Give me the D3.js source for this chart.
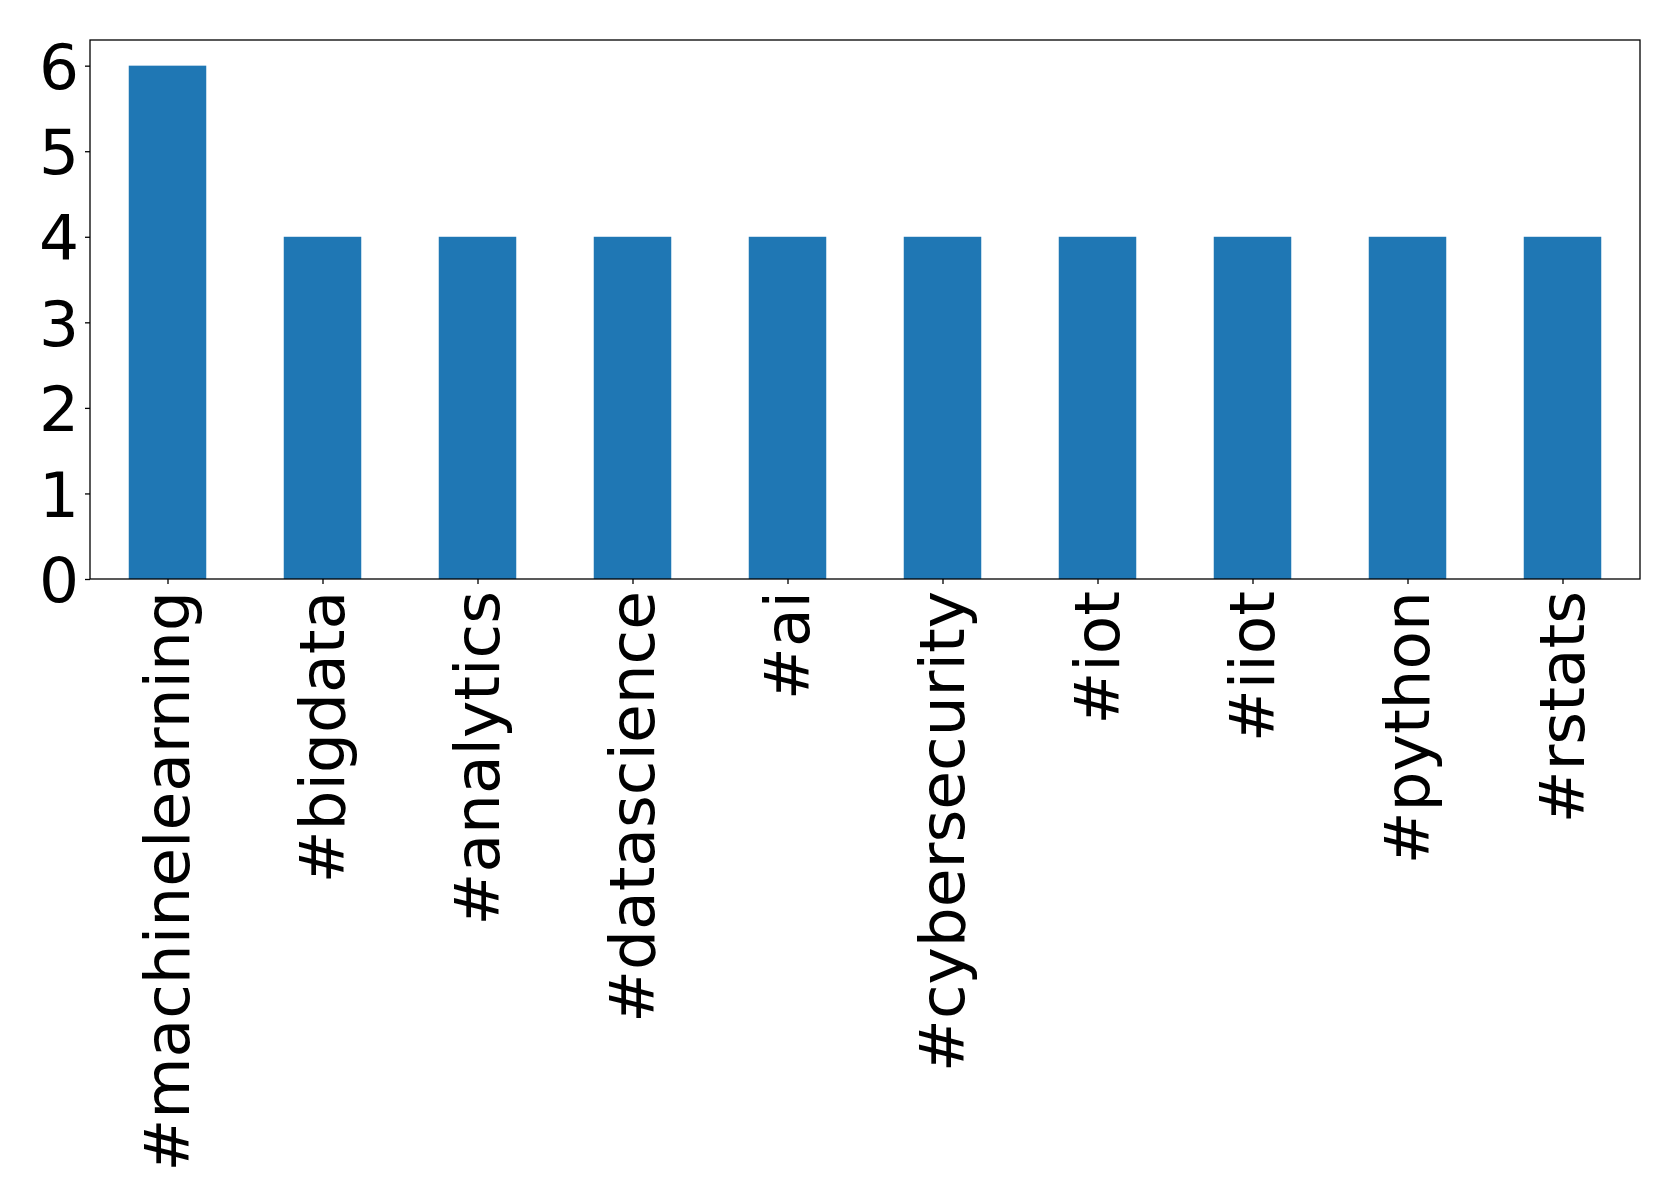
<!DOCTYPE html>
<html><head><meta charset="utf-8">
<script src="https://cdn.jsdelivr.net/npm/d3@7"></script>
<style>body{margin:0;background:#fff}</style>
</head><body>
<svg id="c" width="1679" height="1204"></svg>
<script>
const categories = ["#machinelearning","#bigdata","#analytics","#datascience","#ai","#cybersecurity","#iot","#iiot","#python","#rstats"];
const values = [6,4,4,4,4,4,4,4,4,4];
const yTicks = [0,1,2,3,4,5,6];

const svg = d3.select("#c");
const L = 90, R = 1640, T = 40, B = 579;
const x = d3.scaleLinear().domain([-0.5, categories.length - 0.5]).range([L, R]);
const y = d3.scaleLinear().domain([0, 6.3]).range([B, T]);
const font = "'DejaVu Sans', sans-serif";

svg.append("g").selectAll("rect").data(values).join("rect")
  .attr("x", (d,i) => x(i - 0.25)).attr("width", x(0.25) - x(-0.25))
  .attr("y", d => y(d)).attr("height", d => y(0) - y(d))
  .attr("fill", "#1f77b4");

svg.append("rect").attr("x", L).attr("y", T).attr("width", R - L).attr("height", B - T)
  .attr("fill", "none").attr("stroke", "#000").attr("stroke-width", 1.3);

const ya = svg.append("g").attr("transform", `translate(${L},0)`)
  .call(d3.axisLeft(y).tickValues(yTicks).tickFormat(d3.format("d")).tickSize(5).tickPadding(6));
ya.select(".domain").remove();
ya.selectAll("line").attr("stroke-width", 1.3);
ya.selectAll("text").attr("font-family", font).attr("font-size", 63).attr("fill", "#000").attr("dy", "0.36em");

const xa = svg.append("g").attr("transform", `translate(0,${B})`)
  .call(d3.axisBottom(x).tickValues(d3.range(categories.length)).tickFormat(i => categories[i]).tickSize(5).tickPadding(0));
xa.select(".domain").remove();
xa.selectAll("line").attr("stroke-width", 1.3);
xa.selectAll("text").attr("font-family", font).attr("font-size", 63).attr("fill", "#000")
  .attr("text-anchor", "end").attr("y", 0).attr("x", 0).attr("dy", "0.33em")
  .attr("transform", "translate(0,12) rotate(-90)");
</script>
</body></html>
